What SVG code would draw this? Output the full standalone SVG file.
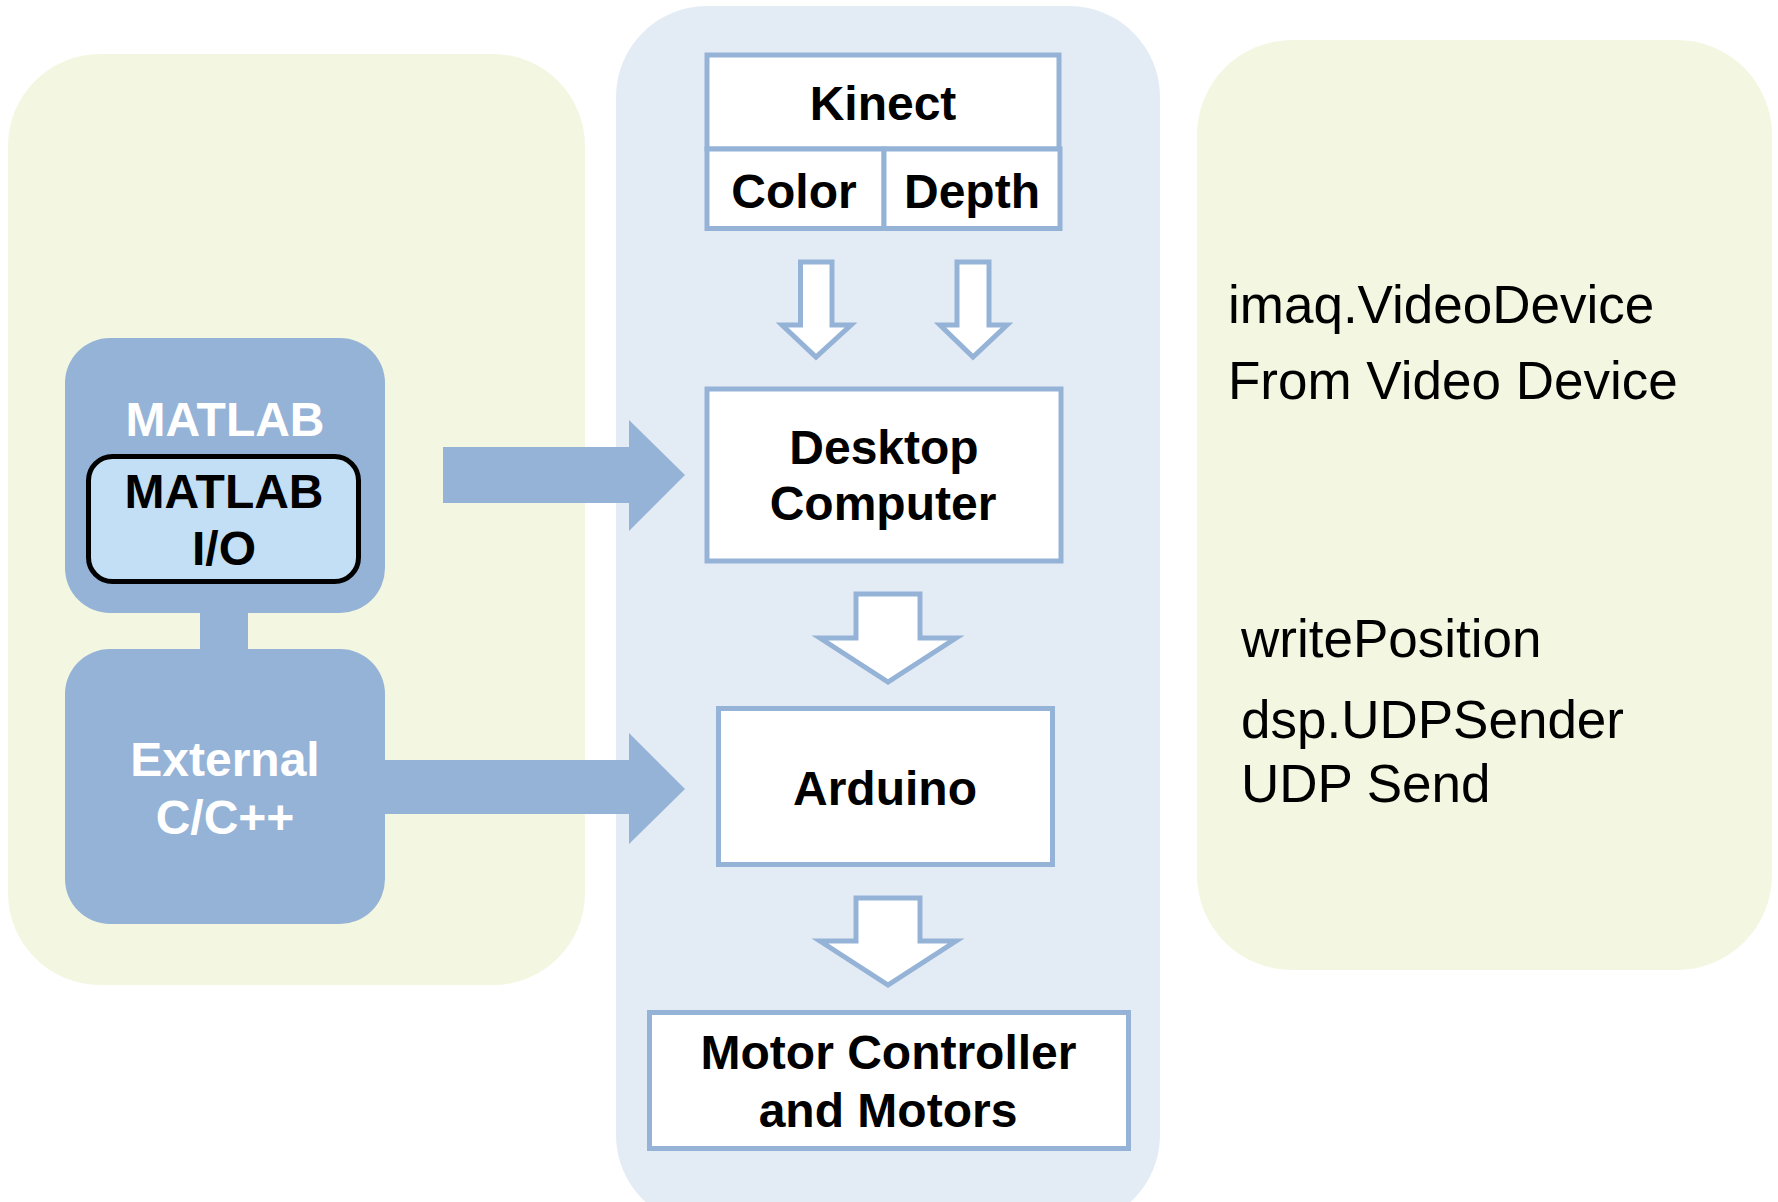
<svg xmlns="http://www.w3.org/2000/svg" width="1778" height="1202" viewBox="0 0 1778 1202">
<style>
.panelG{fill:#F3F7E1}
.panelB{fill:#E3EBF5}
.box{fill:#FFFFFF;stroke:#95B3D7;stroke-width:5}
.hollow{fill:#FFFFFF;stroke:#95B3D7;stroke-width:5;stroke-linejoin:miter}
.solid{fill:#95B3D7}
.b{font-family:"Liberation Sans",Arial,sans-serif;font-weight:bold;font-size:48px;text-anchor:middle;fill:#000}
.w{fill:#FFFFFF}
.r{font-family:"Liberation Sans",Arial,sans-serif;font-size:53px;fill:#000}
</style>
<rect width="1778" height="1202" fill="#FFFFFF"/>
<g id="panels">
<rect class="panelG" x="8" y="54" width="577" height="931" rx="92" ry="92"/>
<rect class="panelB" x="616" y="6" width="544" height="1220" rx="91" ry="91"/>
<rect class="panelG" x="1197" y="40" width="575" height="930" rx="95" ry="95"/>
</g>
<g id="connectors">
<polygon class="solid" points="443,447 629,447 629,420 685,475 629,531 629,503 443,503"/>
<polygon class="solid" points="385,760 629,760 629,733 685,789 629,844 629,814 385,814"/>
<rect class="solid" x="200" y="608" width="48" height="46"/>
<polygon class="hollow" points="800.5,262 832,262 832,325 851,325 816,357 782,325 800.5,325"/>
<polygon class="hollow" points="957,262 989,262 989,325 1007,325 973,357 940,325 957,325"/>
<polygon class="hollow" points="856,594 920,594 920,638 956,638 888,682 820,638 856,638"/>
<polygon class="hollow" points="856,898 920,898 920,941 956,941 888,985 820,941 856,941"/>
</g>
<g id="matlab">
<rect class="solid" x="65" y="338" width="320" height="275" rx="45" ry="45"/>
<text class="b w" x="225" y="436">MATLAB</text>
</g>
<g id="matlab-io">
<rect x="88.5" y="456.5" width="270" height="125" rx="24" ry="24" fill="#C2DFF5" stroke="#000" stroke-width="5"/>
<text class="b" x="224" y="508">MATLAB</text>
<text class="b" x="224" y="565">I/O</text>
</g>
<g id="external">
<rect class="solid" x="65" y="649" width="320" height="275" rx="45" ry="45"/>
<text class="b w" x="225" y="776">External</text>
<text class="b w" x="225" y="834">C/C++</text>
</g>
<g id="kinect">
<rect class="box" x="707" y="55" width="352" height="94"/>
<text class="b" x="883" y="120">Kinect</text>
</g>
<g id="color">
<rect class="box" x="707" y="149" width="177" height="79.5"/>
<text class="b" x="794" y="208">Color</text>
</g>
<g id="depth">
<rect class="box" x="884" y="149" width="176" height="79.5"/>
<text class="b" x="972" y="208">Depth</text>
</g>
<g id="desktop">
<rect class="box" x="707" y="389" width="354" height="172"/>
<text class="b" x="884" y="464">Desktop</text>
<text class="b" x="883" y="520">Computer</text>
</g>
<g id="arduino">
<rect class="box" x="718.5" y="708.5" width="334" height="156"/>
<text class="b" x="885" y="805">Arduino</text>
</g>
<g id="motor">
<rect class="box" x="649.5" y="1012.5" width="479" height="136"/>
<text class="b" x="888.5" y="1069">Motor Controller</text>
<text class="b" x="888" y="1127">and Motors</text>
</g>
<g id="notes">
<text class="r" x="1228" y="323">imaq.VideoDevice</text>
<text class="r" x="1228" y="399">From Video Device</text>
<text class="r" x="1241" y="657">writePosition</text>
<text class="r" x="1241" y="738">dsp.UDPSender</text>
<text class="r" x="1241" y="802">UDP Send</text>
</g>
</svg>
